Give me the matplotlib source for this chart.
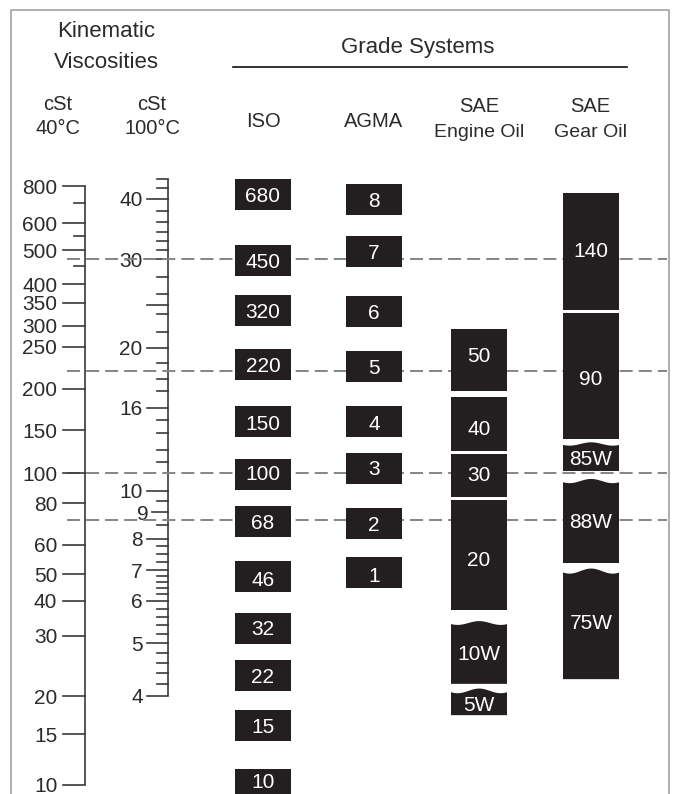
import numpy as np
import matplotlib
matplotlib.use("Agg")
import matplotlib.pyplot as plt
from matplotlib.patches import Polygon
from matplotlib.lines import Line2D

plt.rcParams['font.family'] = ['Liberation Sans', 'DejaVu Sans']

# ---------------- data ----------------
# 40 degC kinematic viscosity scale (cSt)
visc40_ticks = [10, 15, 20, 30, 40, 50, 60, 80, 100, 150, 200, 250, 300, 350, 400, 500, 600, 800]
visc40_minor = [450, 550, 700]
# 100 degC kinematic viscosity scale (cSt)
visc100_ticks = [4, 5, 6, 7, 8, 9, 10, 16, 20, 30, 40]
visc100_minor = [4.2, 4.4, 4.6, 4.8, 5.2, 5.4, 5.6, 5.8, 6.2, 6.4, 6.6, 6.8, 7.25, 7.5, 7.75,
                 8.5, 9.5, 11.8, 12.6, 13.9, 14.9, 17, 17.8, 18.9, 21.5, 23.3, 25.6, 27.6,
                 31.4, 32.7, 34.2, 35.8, 37.8, 42.1, 44]
visc100_mid = [24.3]

# grade boxes: label, top and bottom in cSt at 40 degC
iso_labels = ['680', '450', '320', '220', '150', '100', '68', '46', '32', '22', '15', '10']
iso_top = [844, 517, 370, 247, 177.5, 114.4, 78.5, 54.3, 36.2, 25.5, 18.0, 11.4]
iso_bottom = [665, 421.7, 299, 209.7, 140.5, 88.3, 63.3, 43.1, 28.4, 20.7, 14.2, 9.0]

agma_labels = ['8', '7', '6', '5', '4', '3', '2', '1']
agma_top = [812.6, 550.2, 367.3, 244.4, 177.5, 120.9, 77.4, 55.6]
agma_bottom = [639.7, 447.3, 296.7, 207.5, 140.5, 92.3, 62.4, 44.5]

engine_labels = ['50', '40', '30', '20', '10W', '5W']
engine_top = [291.5, 189.1, 119.8, 82.0, 33.3, 20.7]
engine_bottom = [197.2, 123.2, 83.8, 37.1, 21.7, 17.3]

gear_labels = ['140', '90', '85W', '88W', '75W']
gear_top = [758, 326.7, 131.6, 94.4, 51.0]
gear_bottom = [333.3, 137.9, 102.2, 53.6, 22.4]

wavy_labels = ['10W', '5W', '85W', '88W', '75W']

dashed_levels = [470, 220, 100, 71]

# ---------------- layout ----------------
W, H = 673, 794
# vertical rows (pixels from top) at which the reference draws each labelled tick
ROWS40 = [785, 734, 696, 635.7, 600.7, 574.3, 544.7, 503.3, 473.3, 430, 389, 346.7,
          325.7, 302.7, 284, 250, 223.3, 186]
ROWS100 = [695.7, 643.3, 600.7, 570, 539, 512, 491, 407.7, 347.7, 259.3, 199]

X40, X100 = 85.3, 167.7
COLS = {'iso': 263, 'agma': 374, 'engine': 479, 'gear': 591}
BOX_W = 56
BOX_COLOR = '#231f20'
LINE_COLOR = '#3a3a3a'
TEXT_COLOR = '#2b2b2b'
DASH_COLOR = '#858585'


def make_scale(vals, rows):
    lx = np.log10(np.asarray(vals, float))
    ly = -np.asarray(rows, float)
    s0 = (ly[1] - ly[0]) / (lx[1] - lx[0])
    s1 = (ly[-1] - ly[-2]) / (lx[-1] - lx[-2])

    def fwd(v):
        v = np.asarray(v, float)
        l = np.log10(np.clip(v, 1e-9, None))
        out = np.interp(l, lx, ly)
        out = np.where(l < lx[0], ly[0] + (l - lx[0]) * s0, out)
        out = np.where(l > lx[-1], ly[-1] + (l - lx[-1]) * s1, out)
        return out

    def inv(y):
        y = np.asarray(y, float)
        out = np.interp(y, ly, lx)
        out = np.where(y < ly[0], lx[0] + (y - ly[0]) / s0, out)
        out = np.where(y > ly[-1], lx[-1] + (y - ly[-1]) / s1, out)
        return 10 ** out

    return fwd, inv


fwd40, inv40 = make_scale(visc40_ticks, ROWS40)
fwd100, inv100 = make_scale(visc100_ticks, ROWS100)

fig = plt.figure(figsize=(W / 100, H / 100), dpi=100)
fig.patch.set_facecolor('white')

ax = fig.add_axes([0, 0, 1, 1])
ax.set_yscale('function', functions=(fwd40, inv40))
ax2 = fig.add_axes([0, 0, 1, 1], sharex=ax)
ax2.set_yscale('function', functions=(fwd100, inv100))
for a in (ax, ax2):
    a.axis('off')
ax2.set_zorder(ax.get_zorder() - 1)

FS_TICK = 15
FS_BOX = 15

# ---- 40 degC scale ----
ax.plot([X40, X40], [visc40_ticks[0], visc40_ticks[-1]], color=LINE_COLOR, lw=1.2,
        solid_capstyle='butt', zorder=3)
for v in visc40_ticks:
    ax.plot([X40 - 22, X40], [v, v], color=LINE_COLOR, lw=1.2, zorder=3)
    ax.text(X40 - 28, v, f'{v}', ha='right', va='center_baseline', fontsize=FS_TICK,
            color=TEXT_COLOR, zorder=3)
for v in visc40_minor:
    ax.plot([X40 - 11, X40], [v, v], color=LINE_COLOR, lw=1.2, zorder=3)

# ---- 100 degC scale ----
ax2.plot([X100, X100], [visc100_ticks[0], visc100_minor[-1]], color=LINE_COLOR, lw=1.2,
         solid_capstyle='butt')
for v in visc100_ticks:
    ln = 16 if v == 9 else 21
    ax2.plot([X100 - ln, X100], [v, v], color=LINE_COLOR, lw=1.2)
    ax2.text(X100 - ln - 3 if v == 9 else X100 - 25, v, f'{v}', ha='right',
             va='center_baseline', fontsize=FS_TICK, color=TEXT_COLOR)
for v in visc100_minor:
    ax2.plot([X100 - 11, X100], [v, v], color=LINE_COLOR, lw=1.2)
for v in visc100_mid:
    ax2.plot([X100 - 21, X100], [v, v], color=LINE_COLOR, lw=1.2)

# ---- dashed reference lines ----
for v in dashed_levels:
    ax.plot([67, 667], [v, v], color=DASH_COLOR, lw=1.4, dashes=(6.7, 3.1), zorder=1)

# ---- grade boxes ----
DEC_PER_PX = 0.0031


def draw_boxes(col, labels, tops, bottoms):
    xc = COLS[col]
    x0, x1 = xc - BOX_W / 2, xc + BOX_W / 2
    for lab, t, b in zip(labels, tops, bottoms):
        if lab in wavy_labels:
            tt = np.linspace(0, 1, 40)
            off = 2.2 * np.sin(2 * np.pi * 1.3 * tt + 0.6)
            xs = x0 + tt * BOX_W
            ys = t * 10 ** (-off * DEC_PER_PX)
            verts = [(x0, b), (x1, b)] + list(zip(xs[::-1], ys[::-1]))
        else:
            verts = [(x0, b), (x1, b), (x1, t), (x0, t)]
        ax.add_patch(Polygon(verts, closed=True, facecolor=BOX_COLOR, edgecolor='none',
                             zorder=2))
        ax.text(xc, np.sqrt(t * max(b, 9.4)), lab, ha='center', va='center_baseline',
                fontsize=FS_BOX, color='white', zorder=4)


draw_boxes('iso', iso_labels, iso_top, iso_bottom)
draw_boxes('agma', agma_labels, agma_top, agma_bottom)
draw_boxes('engine', engine_labels, engine_top, engine_bottom)
draw_boxes('gear', gear_labels, gear_top, gear_bottom)

ax.set_xlim(0, W)
ax.set_ylim(float(inv40(-H)), float(inv40(0)))
ax2.set_ylim(float(inv100(-H)), float(inv100(0)))


# ---- headers ----
def ftext(x, y, s, fs, **kw):
    fig.text(x / W, 1 - y / H, s, fontsize=fs, ha='center', va='baseline',
             color=TEXT_COLOR, **kw)


ftext(106, 37, 'Kinematic', 16)
ftext(106, 68, 'Viscosities', 16)
ftext(58, 110, 'cSt', 14.5)
ftext(58, 134, '40°C', 14.5)
ftext(152, 110, 'cSt', 14.5)
ftext(152, 134, '100°C', 14.5)
ftext(418, 53, 'Grade Systems', 16)
ftext(263, 127, 'ISO', 14.5)
ftext(374, 127, 'AGMA', 14.5)
ftext(479, 112, 'SAE', 14.5)
ftext(479, 137, 'Engine Oil', 14)
ftext(590, 112, 'SAE', 14.5)
ftext(590, 137, 'Gear Oil', 14)

fig.add_artist(Line2D([233 / W, 627 / W], [1 - 66.7 / H] * 2, transform=fig.transFigure,
                      color='#111111', lw=1.2))
# frame (left, top, right)
fig.add_artist(Line2D([11.5 / W, 11.5 / W, 668.5 / W, 668.5 / W],
                      [0, 1 - 9.5 / H, 1 - 9.5 / H, 0], transform=fig.transFigure,
                      color='#9a9a9a', lw=1.1))

fig.savefig('out.png', dpi=100, facecolor='white')
